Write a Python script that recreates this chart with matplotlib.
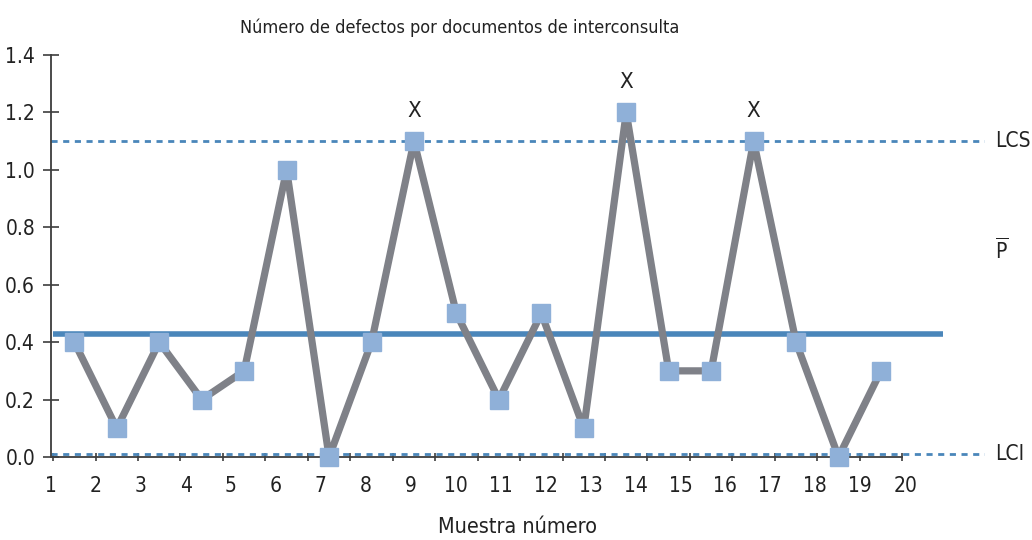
import matplotlib
matplotlib.use("Agg")
import matplotlib.pyplot as plt
import numpy as np
from matplotlib import font_manager

# ---- data ----
samples = list(range(1, 21))
defect_rate = [0.4, 0.1, 0.4, 0.2, 0.3, 1.0, 0.0, 0.4, 1.1, 0.5,
               0.2, 0.5, 0.1, 1.2, 0.3, 0.3, 1.1, 0.4, 0.0, 0.3]
p_bar = 0.43
lcs = 1.1
lci = 0.01
x_tick_labels = [str(i) for i in range(1, 21)]
y_ticks = [0.0, 0.2, 0.4, 0.6, 0.8, 1.0, 1.2, 1.4]
title = "Número de defectos por documentos de interconsulta"
xlabel = "Muestra número"

# ---- font selection ----
fonts = font_manager.fontManager.ttflist
names = {f.name for f in fonts}
stretch = "normal"
if "Liberation Sans Narrow" in names:
    family = "Liberation Sans Narrow"
elif any(f.name == "DejaVu Sans" and str(f.stretch) in ("condensed", "semi-condensed") for f in fonts):
    family = "DejaVu Sans"
    stretch = "condensed"
else:
    family = "Liberation Sans"
plt.rcParams["font.family"] = [family, "DejaVu Sans"]
plt.rcParams["font.stretch"] = stretch
plt.rcParams["mathtext.fontset"] = "custom"
plt.rcParams["mathtext.rm"] = family

TXT = "#222222"
AX = "#3d3d3d"
GRAY = "#7f8188"
SQ = "#8fb0d8"
BLUE = "#4a86ba"
FS = 15

fig = plt.figure(figsize=(10.32, 5.4), dpi=100)
ax = fig.add_axes([51 / 1032, 83 / 540, 934 / 1032, 402 / 540])
ax.set_xlim(0.5, 22.45)
ax.set_ylim(0, 1.4)

for s in ("top", "right"):
    ax.spines[s].set_visible(False)
for s in ("left", "bottom"):
    ax.spines[s].set_color(AX)
    ax.spines[s].set_linewidth(1.3)
ax.spines["bottom"].set_bounds(0.5, 20.5)
ax.spines["left"].set_bounds(0, 1.4)

# x ticks: boundaries (no labels) + labels spread over the axis
ax.set_xticks(np.arange(0.5, 21.0, 1.0))
ax.set_xticklabels([])
ax.set_xticks(np.linspace(0.45, 20.57, 20), minor=True)
ax.set_xticklabels(x_tick_labels, minor=True)
ax.tick_params(axis="x", which="major", direction="inout", length=6, width=1.2, color=AX)
ax.tick_params(axis="x", which="minor", length=0, pad=14, labelsize=FS, labelcolor=TXT)

ax.set_yticks(y_ticks)
ax.set_yticklabels([f"{v:.1f}" for v in y_ticks])
ax.tick_params(axis="y", direction="inout", length=11, width=1.2, color=AX,
               pad=6, labelsize=FS, labelcolor=TXT)

# control lines
ax.axhline(lcs, color=BLUE, lw=2.0, ls=(0, (2.2, 2.0)), zorder=2)
ax.axhline(lci, color=BLUE, lw=2.0, ls=(0, (2.2, 2.0)), zorder=2)
ax.hlines(p_bar, 0.5, 21.46, color=BLUE, lw=4.0, zorder=2)

# data
ax.plot(samples, defect_rate, color=GRAY, lw=5.2, zorder=3, clip_on=False)
ax.plot(samples, defect_rate, "s", ms=12.5, color=SQ, zorder=4, clip_on=False)

# out-of-control flags
for x, v in zip(samples, defect_rate):
    if v >= lcs:
        ax.annotate("X", (x, v), xytext=(0, 22), textcoords="offset points",
                    ha="center", va="center", fontsize=16, color=TXT)

# labels on right
ax.text(22.69, lcs, "LCS", ha="left", va="center", fontsize=FS, color=TXT, clip_on=False)
ax.text(22.69, lci, "LCI", ha="left", va="center", fontsize=FS, color=TXT, clip_on=False)
ax.text(22.85, 0.72, r"$\overline{\mathrm{P}}$", ha="center", va="center", fontsize=FS,
        color=TXT, clip_on=False)

fig.text(460 / 1032, 1 - 28 / 540, title, ha="center", va="center", fontsize=13, color=TXT)
fig.text(517 / 1032, 1 - 527 / 540, xlabel, ha="center", va="center", fontsize=15.5, color=TXT)

fig.savefig("out.png", dpi=100)
